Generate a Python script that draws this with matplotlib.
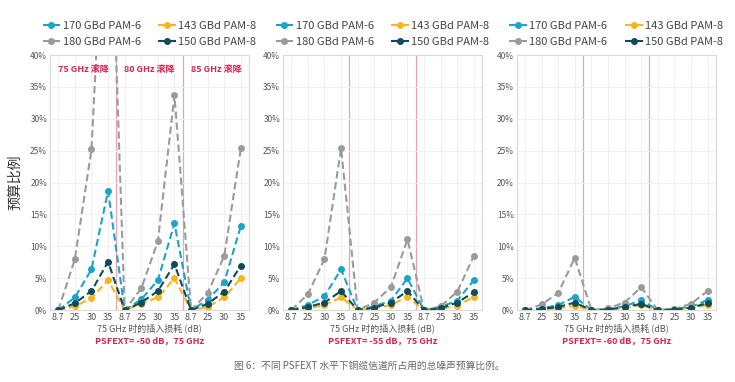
import numpy as np
import matplotlib.pyplot as plt
from matplotlib.ticker import FuncFormatter

plt.rcParams['font.family'] = ['Noto Sans CJK SC', 'DejaVu Sans']

loss_labels = ['8.7', '25', '30', '35'] * 3
rolloffs = ['75 GHz 滚降', '80 GHz 滚降', '85 GHz 滚降']
psfext = ['PSFEXT= -50 dB，75 GHz', 'PSFEXT= -55 dB，75 GHz', 'PSFEXT= -60 dB，75 GHz']

series_names = ['170 GBd PAM-6', '180 GBd PAM-6', '143 GBd PAM-8', '150 GBd PAM-8']
colors = ['#1ca3c9', '#9b9b9b', '#f5b622', '#0f4b5a']

# budget share in %, one list per panel (-50, -55, -60 dB)
pam6_170 = [
    [0, 2.0, 6.4, 18.7, 0, 1.7, 4.7, 13.6, 0, 1.6, 4.4, 13.2],
    [0, 0.8, 2.2, 6.4, 0, 0.6, 1.5, 5.0, 0, 0.5, 1.5, 4.7],
    [0, 0.3, 0.8, 2.1, 0, 0.2, 0.6, 1.6, 0, 0.2, 0.5, 1.6],
]
pam6_180 = [
    [0, 8.0, 25.2, 77.0, 0, 3.4, 10.8, 33.7, 0, 2.7, 8.5, 25.4],
    [0, 2.5, 8.0, 25.4, 0, 1.2, 3.6, 11.1, 0, 0.6, 2.9, 8.5],
    [0, 0.9, 2.7, 8.2, 0, 0.3, 1.2, 3.6, 0, 0.2, 1.0, 3.0],
]
pam8_143 = [
    [0, 0.6, 1.9, 4.7, 0, 1.0, 2.0, 5.0, 0, 0.5, 2.0, 5.0],
    [0, 0.3, 0.8, 2.0, 0, 0.3, 0.8, 2.1, 0, 0.2, 0.7, 2.1],
    [0, 0.1, 0.3, 0.7, 0, 0.1, 0.3, 0.8, 0, 0.1, 0.3, 0.8],
]
pam8_150 = [
    [0, 1.1, 3.0, 7.6, 0, 1.2, 3.0, 7.2, 0, 1.0, 2.9, 7.0],
    [0, 0.5, 1.2, 3.0, 0, 0.4, 1.2, 3.0, 0, 0.3, 1.2, 2.8],
    [0, 0.2, 0.5, 1.2, 0, 0.1, 0.5, 1.0, 0, 0.1, 0.4, 1.1],
]
all_series = [pam6_170, pam6_180, pam8_143, pam8_150]

fig = plt.figure(figsize=(7.35, 3.82), dpi=100)
lefts = [0.068, 0.385, 0.703]
x = np.arange(len(loss_labels))

for p in range(3):
    ax = fig.add_axes([lefts[p], 0.188, 0.271, 0.668])
    for s in range(4):
        ax.plot(x, all_series[s][p], linestyle=(0, (3.5, 1.8)), linewidth=1.5,
                marker='o', markersize=4, color=colors[s], label=series_names[s])
    for b in [3.5, 7.5]:
        ax.axvline(b, color='#eba3ad', linewidth=0.9, zorder=0)
    ax.set_xlim(-0.5, 11.5)
    ax.set_ylim(0, 40)
    ax.set_yticks(np.arange(0, 41, 5))
    ax.yaxis.set_major_formatter(FuncFormatter(lambda v, _: f'{v:.0f}%'))
    ax.set_xticks(x)
    ax.set_xticklabels(loss_labels)
    ax.tick_params(length=0, labelsize=6.5, labelcolor='#555555', pad=2)
    ax.tick_params(axis='y', labelsize=6)
    ax.grid(True, color='#f0f0f0', linewidth=0.7)
    ax.set_axisbelow(True)
    for sp in ax.spines.values():
        sp.set_color('#dadada')
        sp.set_linewidth(0.8)
    ax.set_xlabel('75 GHz 时的插入损耗 (dB)', fontsize=6.5, color='#555555', labelpad=1)
    ax.text(0.5, -0.122, psfext[p], transform=ax.transAxes, ha='center', va='center',
            fontsize=6.5, color='#d8234a', fontweight='bold')
    if p == 0:
        for k in range(3):
            ax.text(4 * k + 1.5, 37.7, rolloffs[k], ha='center', va='center',
                    fontsize=6.5, color='#d8234a', fontweight='bold')
        ax.set_ylabel('预算比例', fontsize=10, color='#333333', labelpad=6)
    handles, labels = ax.get_legend_handles_labels()
    ax.legend(handles, labels, ncol=2,
              loc='lower center', bbox_to_anchor=(0.5, 1.0), frameon=False,
              fontsize=8, handlelength=1.6, handletextpad=0.2, columnspacing=1.6,
              labelspacing=0.55, borderaxespad=0.3, labelcolor='#444444')

fig.text(0.503, 0.042, '图 6：不同 PSFEXT 水平下铜缆信道所占用的总噪声预算比例。',
         ha='center', va='center', fontsize=7, color='#666666')

fig.savefig('out.png', dpi=100)
